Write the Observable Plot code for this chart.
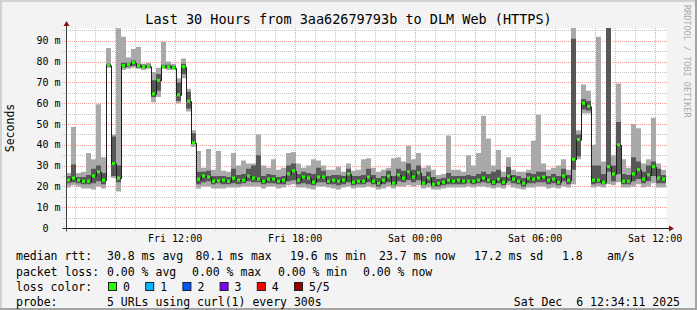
<!DOCTYPE html>
<html>
<head>
<meta charset="utf-8">
<script src="https://cdn.jsdelivr.net/npm/d3@7"></script>
<script src="https://cdn.jsdelivr.net/npm/@observablehq/plot@0.6"></script>
<style>
  html, body { margin: 0; padding: 0; background: #f3f3f3; }
  #chart { width: 697px; height: 310px; }
  #chart svg { display: block; }
</style>
</head>
<body>
<div id="chart"></div>
<script>
// ---- texts ----
const titleText = "Last 30 Hours from 3aa62679793b to DLM Web (HTTPS)";
const yAxisLabel = "Seconds";
const watermark = "RRDTOOL / TOBI OETIKER";

// ---- time frame (30 hours ending Sat Dec 6 2025 12:34:11) ----
const startTime = Date.UTC(2025, 11, 5, 6, 34, 11);
const endTime = Date.UTC(2025, 11, 6, 12, 34, 11);
const binMinutes = 15;
const yMax = 96.15;

// ---- smoke / median values, ms (one value per 15-minute bin) ----
const minV = [19.5,20.5,20,19,19,18.5,20,19,77,24, 17.5,76,76.5,77,76.5,76,76.5,60.5,63,76.5,
  76,76,60,72,56,39,19,20,20,19, 19,19,19.5,19.5,19.5,20,20,20,20,19,
  20,20,19,19.5,20.5,21,19.5,19.5,19,18.5, 20,20,19.5,19,18.5,19.5,20,19,19.5,19.5,
  20,19.5,18.5,19,20,19,20,20,20.5,20, 20.5,19,19.5,18.5,18.5,19,19.5,19.5,19.5,19.5,
  20,19.5,20,20,19.5,19,19.5,19,20.5,19.5, 19,18.5,19.5,19.5,20,20,19,19.5,19,20,
  19.5,21,33,55,55,19.5,20,19.5,21,20.5, 22,19.5,19.5,20,21,19.5,20,21.5,19.5,19.5];
const p2V = [21.5,22,21.5,21,21,21.5,22.5,21,77.5,25, 22,77,77.5,78,77,77,77,63,66,77,
  77,76.5,61,74,57.5,40.5,21,22,22.5,21, 21.5,21,21,21.5,21,21.5,22.5,22,22,21,
  21.5,21.5,21,21,22.5,23,21,21.5,21,20.5, 22,22,21,21,20.5,21,22,20.5,21,21,
  22,21,20,21,22,20.5,22.5,22,23,22, 23,20.5,21.5,20,20,20.5,21,21,21,21,
  21.5,21,21.5,22,21.5,20.5,21.5,20.5,22.5,21.5, 21,20,21.5,21.5,22,22,21,21.5,20.5,22.5,
  21,28,34.5,57,56.5,21,21.5,21,27,22.5, 26,21,21,22.5,23.5,21.5,22.5,25,21.5,21.5];
const medV = [23,24,23,22.5,22.5,25,27,23,78.2,31, 24,78,78.5,79.5,78,77.5,77.7,64.5,71,77.5,
  77.5,77,64,77.5,61,41,23.5,25,24.5,22.5, 22.7,23,22.5,24,23,23,25,24,23.5,22.5,
  23.5,23.5,22.5,23,26,27.5,23,24.5,24,22, 24.5,24.5,22.5,23,22.5,23,26,22,22.5,22.5,
  24.5,22.5,21.5,23,25,21.5,25.5,24,27,24.5, 26.5,21.5,24,21,21.5,22,23,22.5,23,22.5,
  22.5,22.5,23,24,23,22,23.5,22,25,23.5, 22.5,21.5,24,23.5,24,24.5,23,23.5,22,25,
  23,33,42.5,60,58.5,23,23,22,29.5,26, 40,22.5,22.5,26,28,23.5,25.5,29.5,24,23.5];
const p4V = [25,30.5,24.5,24.5,25.5,28.5,30,26.5,79,44, 30,79.5,79.5,80.5,79,78.5,78.5,71,74,78.5,
  78.5,78,70,79,65.5,45.5,27,27,27.5,25, 25,25,24.5,28.5,25.5,26,28.5,30,35,25,
  26,25.5,24.5,25,30,31,26,27,26.5,26, 29,27.5,25,25.5,25.5,25,28.5,25,25,25.5,
  28.5,25.5,24,25,27.5,25,28.5,27.5,31,28, 30,25,27,24.5,23.5,24,26.5,25,25,25,
  25.5,25,26,27,26,27,28,24.5,29.5,25.5, 25,24,26.5,26,27,27,25,26,25,28.5,
  25.5,91,45,62,61,30,30,26,98,30, 51,26,25.5,34,32,27,30,32,28.5,25.5];
const maxV = [26.5,48.5,26.5,27,36,33,59.5,34,86.5,45, 96,92,82,86,87,79,79.5,75,77,89.5,
  80,79,72,81.5,67,47,37,29,38,28, 37,27.5,27,36,30,32.5,31,31,45,30,
  29,33,28,29,36,36.5,31,29,30,33, 32.5,30,28,28,29.5,27,31,27.5,28,33,
  33.5,29,27,28,29,33.5,34,32,39.5,33, 36,29,30,28,25.5,26,44.5,28,28,27,
  35,30,36,54,43,30,37.5,27,34,28, 27,27,28,42,54.5,31,28,29,30,33,
  28,96.5,47,69,66,40,92,32,99,35, 69.5,33,29,50,48,31,33,53,31,28];

// ---- axis ticks ----
const yTicks = [0, 10, 20, 30, 40, 50, 60, 70, 80, 90];
const yTickLabels = ["0\u00a0\u00a0", "10 m", "20 m", "30 m", "40 m", "50 m", "60 m", "70 m", "80 m", "90 m"];
const xTickTimes = [Date.UTC(2025, 11, 5, 12), Date.UTC(2025, 11, 5, 18), Date.UTC(2025, 11, 6, 0), Date.UTC(2025, 11, 6, 6), Date.UTC(2025, 11, 6, 12)];
const xTickLabels = ["Fri 12:00", "Fri 18:00", "Sat 00:00", "Sat 06:00", "Sat 12:00"];

// ---- legend ----
const rttStats = ["30.8 ms avg", "80.1 ms max", "19.6 ms min", "23.7 ms now", "17.2 ms sd", "1.8", "am/s"];
const lossStats = ["0.00 % avg", "0.00 % max", "0.00 % min", "0.00 % now"];
const lossLabels = ["0", "1", "2", "3", "4", "5/5"];
const lossColors = ["#26ff00", "#00b8ff", "#0059ff", "#7e00ff", "#ff0000", "#a10000"];
const probeText = "5 URLs using curl(1) every 300s";
const stampText = "Sat Dec  6 12:34:11 2025";

// ---- build rows ----
const binMs = binMinutes * 60000;
const rows = medV.map((m, i) => ({
  t: new Date(startTime + i * binMs),
  t1: new Date(startTime + (i + 1) * binMs),
  lo: minV[i], q1: p2V[i], med: m, q3: p4V[i], hi: maxV[i]
}));
const stepRows = [...rows, {...rows[rows.length - 1], t: new Date(endTime)}];

const hourGrid = d3.utcHour.range(new Date(startTime), new Date(endTime));
const majorHours = hourGrid.filter(d => d.getUTCHours() % 3 === 0);
const minorHours = hourGrid.filter(d => d.getUTCHours() % 3 !== 0);
const msGrid = d3.range(5, yMax, 5);
const majorMs = msGrid.filter(v => v % 10 === 0);
const minorMs = msGrid.filter(v => v % 10 !== 0);

const tickLeft = new Date(startTime - 12 * 60000);
const gridRight = new Date(endTime + 3 * 60000);
const greenHalf = 0.75;

const chart = Plot.plot({
  width: 697, height: 310,
  marginLeft: 66, marginRight: 31, marginTop: 28, marginBottom: 82,
  style: {background: "#f3f3f3", fontFamily: "'DejaVu Sans Mono', monospace", fontSize: "10px", color: "#000", overflow: "visible"},
  x: {type: "utc", domain: [new Date(startTime), new Date(endTime)], axis: null},
  y: {domain: [0, yMax], axis: null},
  marks: [
    Plot.frame({fill: "#ffffff", stroke: null}),
    Plot.ruleX(minorHours, {x: d => d, y1: () => -1.3, y2: () => yMax, stroke: "#c4c4c4", strokeDasharray: "1,1", shapeRendering: "crispEdges"}),
    Plot.ruleY(minorMs, {y: d => d, x1: () => tickLeft, x2: () => gridRight, stroke: "#c4c4c4", strokeDasharray: "1,1", shapeRendering: "crispEdges"}),
    Plot.ruleX(majorHours, {x: d => d, y1: () => -1.3, y2: () => yMax, stroke: "#f29c9c", strokeDasharray: "1,1", shapeRendering: "crispEdges"}),
    Plot.ruleY(majorMs, {y: d => d, x1: () => tickLeft, x2: () => gridRight, stroke: "#f29c9c", strokeDasharray: "1,1", shapeRendering: "crispEdges"}),
    Plot.areaY(stepRows, {x: "t", y1: "lo", y2: "hi", curve: "step-after", fill: "#a9a9a9", clip: true}),
    Plot.areaY(stepRows, {x: "t", y1: "q1", y2: "q3", curve: "step-after", fill: "#575757", clip: true}),
    Plot.line(stepRows, {x: "t", y: "med", curve: "step-after", stroke: "#202020", strokeWidth: 1, clip: true}),
    Plot.rect(rows, {x1: "t", x2: "t1", y1: d => d.med - greenHalf, y2: d => d.med + greenHalf, insetLeft: 1, insetRight: 1, fill: "#26ff00", clip: true}),
    Plot.text(yTicks, {x: () => new Date(startTime), y: d => d, text: (d, i) => yTickLabels[i], textAnchor: "end", dx: -6, fontSize: 10, fill: "#000"}),
    Plot.text(xTickTimes, {x: d => new Date(d), y: () => 0, text: (d, i) => xTickLabels[i], dy: 10, fontSize: 10, fill: "#000"})
  ]
});
document.getElementById("chart").appendChild(chart);

// ---- decorations drawn from the plot's scales ----
const svg = d3.select(chart);
const X = chart.scale("x"), Y = chart.scale("y");
const ax = Math.round(X.apply(new Date(startTime))) + 0.5;
const axEnd = X.apply(new Date(endTime));
const ay = Math.round(Y.apply(0)) + 0.5;
const ayTop = Y.apply(yMax);

// axes lines
svg.append("line").attr("x1", ax).attr("x2", ax).attr("y1", ay + 3).attr("y2", ayTop - 5).attr("stroke", "#3c3c3c");
svg.append("line").attr("x1", ax - 4).attr("x2", axEnd + 4).attr("y1", ay).attr("y2", ay).attr("stroke", "#1e1e1e");
// arrows
svg.append("path").attr("d", `M${ax - 3},${ayTop - 2} L${ax},${ayTop - 7} L${ax + 3},${ayTop - 2} Z`).attr("fill", "#8c1414");
svg.append("path").attr("d", `M${axEnd + 3},${ay - 3} L${axEnd + 8},${ay} L${axEnd + 3},${ay + 3} Z`).attr("fill", "#8c1414");

// frame of the image
svg.append("rect").attr("x", 0).attr("y", 0).attr("width", 697).attr("height", 2).attr("fill", "#d2d2d2");
svg.append("rect").attr("x", 0).attr("y", 0).attr("width", 2).attr("height", 310).attr("fill", "#d2d2d2");
svg.append("rect").attr("x", 0).attr("y", 308).attr("width", 697).attr("height", 2).attr("fill", "#a4a4a4");
svg.append("rect").attr("x", 695).attr("y", 0).attr("width", 2).attr("height", 310).attr("fill", "#a4a4a4");

const mono = "'DejaVu Sans Mono', monospace";
// title
svg.append("text").attr("x", 348.5).attr("y", 24).attr("text-anchor", "middle")
  .attr("font-family", mono).attr("font-size", 13.5).attr("fill", "#000").text(titleText);
// y label
svg.append("text").attr("transform", "translate(14,128) rotate(-90)").attr("text-anchor", "middle")
  .attr("font-family", mono).attr("font-size", 11.5).attr("fill", "#000").text(yAxisLabel);
// watermark
svg.append("text").attr("transform", "translate(684,5) rotate(90)").attr("text-anchor", "start")
  .attr("font-family", mono).attr("font-size", 8.5).attr("fill", "#ababab").text(watermark);

// legend
const lg = svg.append("g").attr("font-family", mono).attr("font-size", 11.5).attr("fill", "#000").style("white-space", "pre");
const rowY = [260, 275.5, 291, 305.5];
const put = (txt, x, y, anchor = "start") => lg.append("text").attr("x", x).attr("y", y).attr("text-anchor", anchor).attr("xml:space", "preserve").text(txt);
put("median rtt:", 16, rowY[0]);
const rttX = [107, 195.5, 290, 379, 474, 562, 607];
rttStats.forEach((s, i) => put(s, rttX[i], rowY[0]));
put("packet loss:", 16, rowY[1]);
const lossX = [107, 192, 278, 363];
lossStats.forEach((s, i) => put(s, lossX[i], rowY[1]));
put("loss color:", 16, rowY[2]);
lossLabels.forEach((s, i) => {
  const bx = 108 + i * 37.2;
  lg.append("rect").attr("x", bx + 0.5).attr("y", rowY[2] - 8.5).attr("width", 8).attr("height", 8)
    .attr("fill", lossColors[i]).attr("stroke", "#202020").attr("stroke-width", 1);
  put(s, bx + 15, rowY[2]);
});
put("probe:", 16, rowY[3]);
put(probeText, 107, rowY[3]);
put(stampText, 680, rowY[3], "end");
</script>
</body>
</html>
